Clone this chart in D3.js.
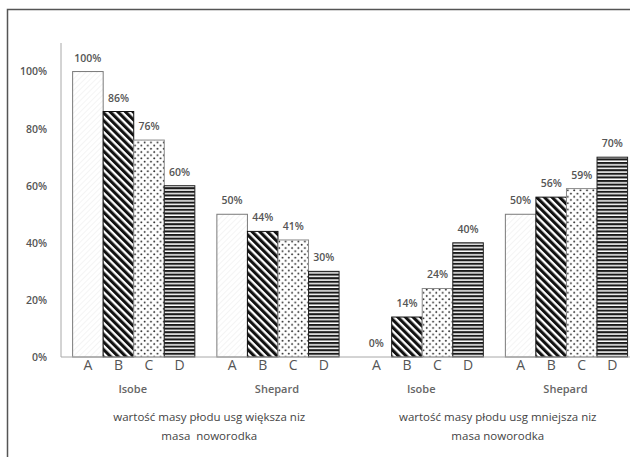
<!DOCTYPE html>
<html>
<head>
<meta charset="utf-8">
<script src="https://cdn.jsdelivr.net/npm/d3@7/dist/d3.min.js"></script>
<style>
  html, body { margin: 0; padding: 0; background: #fff; }
  svg { display: block; }
  text { font-family: "Open Sans", "DejaVu Sans", sans-serif; }
</style>
</head>
<body>
<svg id="chart" width="630" height="457"></svg>
<script>
// Categories and values
const superGroups = [
  ["wartość masy płodu usg większa niz", "masa  noworodka"],
  ["wartość masy płodu usg mniejsza niz", "masa noworodka"]
];
const groups = ["Isobe", "Shepard", "Isobe", "Shepard"];
const series = ["A", "B", "C", "D"];
const valuesIsobeWieksza = [100, 86, 76, 60];
const valuesShepardWieksza = [50, 44, 41, 30];
const valuesIsobeMniejsza = [0, 14, 24, 40];
const valuesShepardMniejsza = [50, 56, 59, 70];
const yTicks = [0, 20, 40, 60, 80, 100];

const groupValues = [valuesIsobeWieksza, valuesShepardWieksza, valuesIsobeMniejsza, valuesShepardMniejsza];

const svg = d3.select("#chart");
const W = 630, H = 457;

const plot = { left: 61, right: 638, top: 43, bottom: 357 };

// Patterns for the four series
const defs = svg.append("defs");

const pA = defs.append("pattern").attr("id", "patA")
  .attr("patternUnits", "userSpaceOnUse").attr("width", 4).attr("height", 4)
  .attr("patternTransform", "rotate(45)");
pA.append("rect").attr("width", 4).attr("height", 4).attr("fill", "#fff");
pA.append("rect").attr("width", 1).attr("height", 4).attr("fill", "#f4f4f4");

const pB = defs.append("pattern").attr("id", "patB")
  .attr("patternUnits", "userSpaceOnUse").attr("width", 5.4).attr("height", 5.4)
  .attr("patternTransform", "rotate(-45)");
pB.append("rect").attr("width", 5.4).attr("height", 5.4).attr("fill", "#fff");
pB.append("rect").attr("width", 3.1).attr("height", 5.4).attr("fill", "#111");

const pC = defs.append("pattern").attr("id", "patC")
  .attr("patternUnits", "userSpaceOnUse").attr("width", 6.4).attr("height", 6.4);
pC.append("rect").attr("width", 6.4).attr("height", 6.4).attr("fill", "#fff");
pC.append("circle").attr("cx", 1.6).attr("cy", 1.6).attr("r", 0.95).attr("fill", "#222");
pC.append("circle").attr("cx", 4.8).attr("cy", 4.8).attr("r", 0.95).attr("fill", "#222");

const pD = defs.append("pattern").attr("id", "patD")
  .attr("patternUnits", "userSpaceOnUse").attr("width", 4).attr("height", 3.6);
pD.append("rect").attr("width", 4).attr("height", 3.6).attr("fill", "#fff");
pD.append("rect").attr("width", 4).attr("height", 2.1).attr("fill", "#1a1a1a");

const fills = { A: "url(#patA)", B: "url(#patB)", C: "url(#patC)", D: "url(#patD)" };
const strokes = { A: "#7a7a7a", B: "#111", C: "#8a8a8a", D: "#222" };

// Outer frame
svg.append("path")
  .attr("d", `M7.5,${H} V9.5 H${W}`)
  .attr("fill", "none").attr("stroke", "#555").attr("stroke-width", 1.5);

// Scales
const y = d3.scaleLinear().domain([0, 110]).range([plot.bottom, plot.top]);
const x0 = d3.scaleBand().domain(d3.range(groups.length))
  .range([plot.left + 0.6, plot.right + 0.6])
  .paddingInner(22 / 144).paddingOuter(11 / 144);
const x1 = d3.scaleBand().domain(series).range([0, x0.bandwidth()]);
const xSuper = d3.scaleBand().domain(d3.range(superGroups.length))
  .range([plot.left, plot.right]);

// Y axis
const yAxis = d3.axisLeft(y).tickValues(yTicks).tickSize(0).tickPadding(14)
  .tickFormat(d => d + "%");
const gy = svg.append("g").attr("transform", `translate(${plot.left},0)`).call(yAxis);
gy.select(".domain").attr("stroke", "#a8a8a8").attr("d", `M0,${plot.top}V${plot.bottom}`);
gy.selectAll("text").attr("font-size", 10.5).attr("fill", "#555")
  .attr("font-weight", 600).attr("font-family", "'Open Sans', sans-serif");

// Bars
const gGroups = svg.append("g").selectAll("g").data(groupValues).join("g")
  .attr("transform", (d, i) => `translate(${x0(i)},0)`);

gGroups.selectAll("rect").data(vals => vals.map((v, j) => ({ key: series[j], value: v })))
  .join("rect")
  .attr("x", d => x1(d.key))
  .attr("width", x1.bandwidth())
  .attr("y", d => y(d.value))
  .attr("height", d => y(0) - y(d.value))
  .attr("fill", d => fills[d.key])
  .attr("stroke", d => strokes[d.key])
  .attr("stroke-width", 1);

// Value labels
gGroups.selectAll("text.val").data(vals => vals.map((v, j) => ({ key: series[j], value: v })))
  .join("text").attr("class", "val")
  .attr("x", d => x1(d.key) + x1.bandwidth() / 2)
  .attr("y", d => y(d.value) - 10)
  .attr("text-anchor", "middle")
  .attr("font-size", 10.5).attr("font-weight", 600).attr("fill", "#555")
  .text(d => d.value + "%");

// Baseline
svg.append("line")
  .attr("x1", plot.left).attr("x2", W).attr("y1", y(0)).attr("y2", y(0))
  .attr("stroke", "#a8a8a8").attr("stroke-width", 1);

// Series letters under each bar
gGroups.selectAll("text.cat").data(series).join("text").attr("class", "cat")
  .attr("x", d => x1(d) + x1.bandwidth() / 2)
  .attr("y", 370)
  .attr("text-anchor", "middle")
  .attr("font-family", "'Liberation Sans', Arial, sans-serif")
  .attr("font-size", 14).attr("fill", "#555")
  .text(d => d);

// Group names
svg.append("g").selectAll("text").data(groups).join("text")
  .attr("x", (d, i) => x0(i) + x0.bandwidth() / 2 - 1)
  .attr("y", 393)
  .attr("text-anchor", "middle")
  .attr("font-size", 11).attr("font-weight", 600).attr("fill", "#666")
  .text(d => d);

// Super-group captions
const gSuper = svg.append("g").selectAll("text").data(superGroups).join("text")
  .attr("text-anchor", "middle")
  .attr("font-size", 11.5).attr("fill", "#444")
  .style("white-space", "pre");
gSuper.selectAll("tspan").data((d, i) => d.map(line => ({ line, i }))).join("tspan")
  .attr("x", d => xSuper(d.i) + xSuper.bandwidth() / 2 + 4)
  .attr("y", (d, k) => 421 + k * 19)
  .text(d => d.line);
</script>
</body>
</html>
